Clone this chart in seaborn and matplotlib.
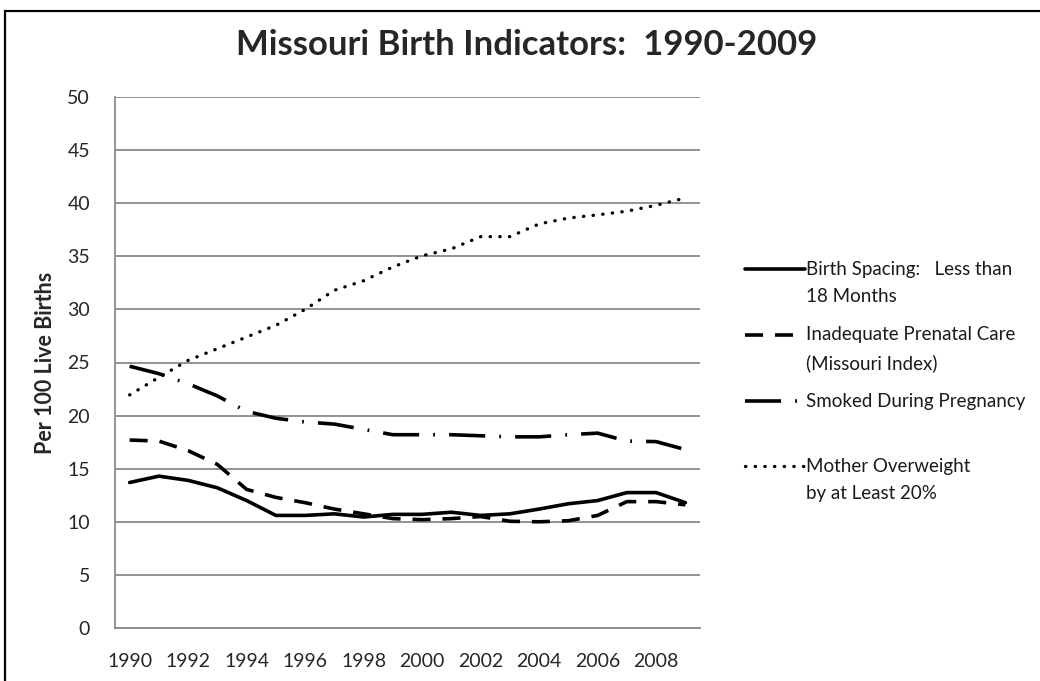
import numpy as np
import pandas as pd
import matplotlib
matplotlib.use("Agg")
import matplotlib.pyplot as plt
import matplotlib.patches as patches
from matplotlib.ticker import MultipleLocator, FixedLocator
from matplotlib.legend_handler import HandlerLine2D
import seaborn as sns

# dados (por 100 nascidos vivos)
anos = list(range(1990, 2010))
espacamento = [13.7, 14.3, 13.9, 13.2, 12.0, 10.6, 10.6, 10.75, 10.45, 10.7,
               10.7, 10.9, 10.6, 10.75, 11.2, 11.7, 12.0, 12.75, 12.75, 11.8]
pre_natal = [17.7, 17.6, 16.7, 15.4, 13.05, 12.3, 11.8, 11.2, 10.75, 10.3,
             10.2, 10.3, 10.5, 10.05, 10.0, 10.1, 10.6, 11.9, 11.9, 11.6]
fumou = [24.65, 23.95, 23.0, 21.85, 20.4, 19.75, 19.4, 19.2, 18.7, 18.2,
         18.2, 18.2, 18.1, 18.0, 18.0, 18.2, 18.35, 17.6, 17.55, 16.8]
sobrepeso = [21.95, 23.6, 25.2, 26.3, 27.4, 28.5, 30.0, 31.8, 32.7, 34.0,
             35.05, 35.7, 36.85, 36.85, 38.05, 38.6, 38.9, 39.25, 39.8, 40.5]

rotulos = ['Birth Spacing:   Less than\n18 Months',
           'Inadequate Prenatal Care\n(Missouri Index)',
           'Smoked During Pregnancy\n ',
           'Mother Overweight\nby at Least 20%']
series = [espacamento, pre_natal, fumou, sobrepeso]
estilos = ['-', (0, (5, 3.3)), (0, (10, 3.9, 0.5, 3.9)), (0, (0.1, 2.8))]
caps = ['butt', 'butt', 'butt', 'round']
larguras = [2.6, 2.6, 2.6, 2.4]


# alinha o traco da legenda com a primeira linha do texto
class HandlerTopo(HandlerLine2D):
    def create_artists(self, legend, orig_handle, xdescent, ydescent,
                       width, height, fontsize, trans):
        arts = super().create_artists(legend, orig_handle, xdescent, ydescent,
                                      width, height, fontsize, trans)
        for a in arts:
            a.set_ydata(np.asarray(a.get_ydata()) + 10.5)
        return arts


sns.set_style("white")
plt.rcParams['font.family'] = ['Lato', 'DejaVu Sans']

fig = plt.figure(figsize=(10.4, 6.81), dpi=100)
ax = fig.add_axes([115/1040, 1-628/681, 585/1040, 531/681])

linhas = []
for valores, rot, ls, cap, lw in zip(series, rotulos, estilos, caps, larguras):
    df = pd.DataFrame({'ano': anos, 'valor': valores})
    sns.lineplot(data=df, x='ano', y='valor', ax=ax, color='black', lw=lw,
                 linestyle=ls, dash_capstyle=cap, label=rot, legend=False)
    linhas.append(ax.lines[-1])

ax.set_xlim(1989.5, 2009.5)
ax.set_ylim(0, 50)
ax.yaxis.set_major_locator(MultipleLocator(5))
ax.xaxis.set_major_locator(FixedLocator(anos[::2]))
ax.xaxis.set_minor_locator(FixedLocator([a + 0.5 for a in anos]))
ax.grid(axis='y', color='#8a8a8a', lw=1.3)
ax.set_axisbelow(True)
for s in ['top', 'right']:
    ax.spines[s].set_visible(False)
for s in ['left', 'bottom']:
    ax.spines[s].set_color('#8a8a8a')
    ax.spines[s].set_linewidth(1.3)
ax.tick_params(axis='y', length=0, pad=18, labelsize=14)
ax.tick_params(axis='x', which='major', length=0, pad=18, labelsize=14)
ax.tick_params(axis='x', which='minor', direction='in', length=5,
               color='#8a8a8a', width=1.2)
ax.set_xlabel('')
ax.set_ylabel('Per 100 Live Births', fontsize=15.5, fontweight='bold', labelpad=8)

fig.text(0.506, 1-45/681, 'Missouri Birth Indicators:  1990-2009',
         ha='center', va='center', fontsize=25, fontweight='bold')

leg = fig.legend(handles=linhas, labels=rotulos, loc='upper left',
                 bbox_to_anchor=(745/1040, 1-261/681), frameon=False,
                 fontsize=13.5, handlelength=3.2, handletextpad=0.08,
                 labelspacing=1.1, borderpad=0, borderaxespad=0,
                 handler_map={l: HandlerTopo() for l in linhas})
for t in leg.get_texts():
    t.set_linespacing(1.75)
    t.set_color('#1a1a1a')

fig.patches.append(patches.Rectangle((5/1040, -0.1), 1.2, 1-11/681+0.1,
                                     fill=False, lw=1.6, ec='black',
                                     transform=fig.transFigure))

fig.savefig('out.png', dpi=100)
